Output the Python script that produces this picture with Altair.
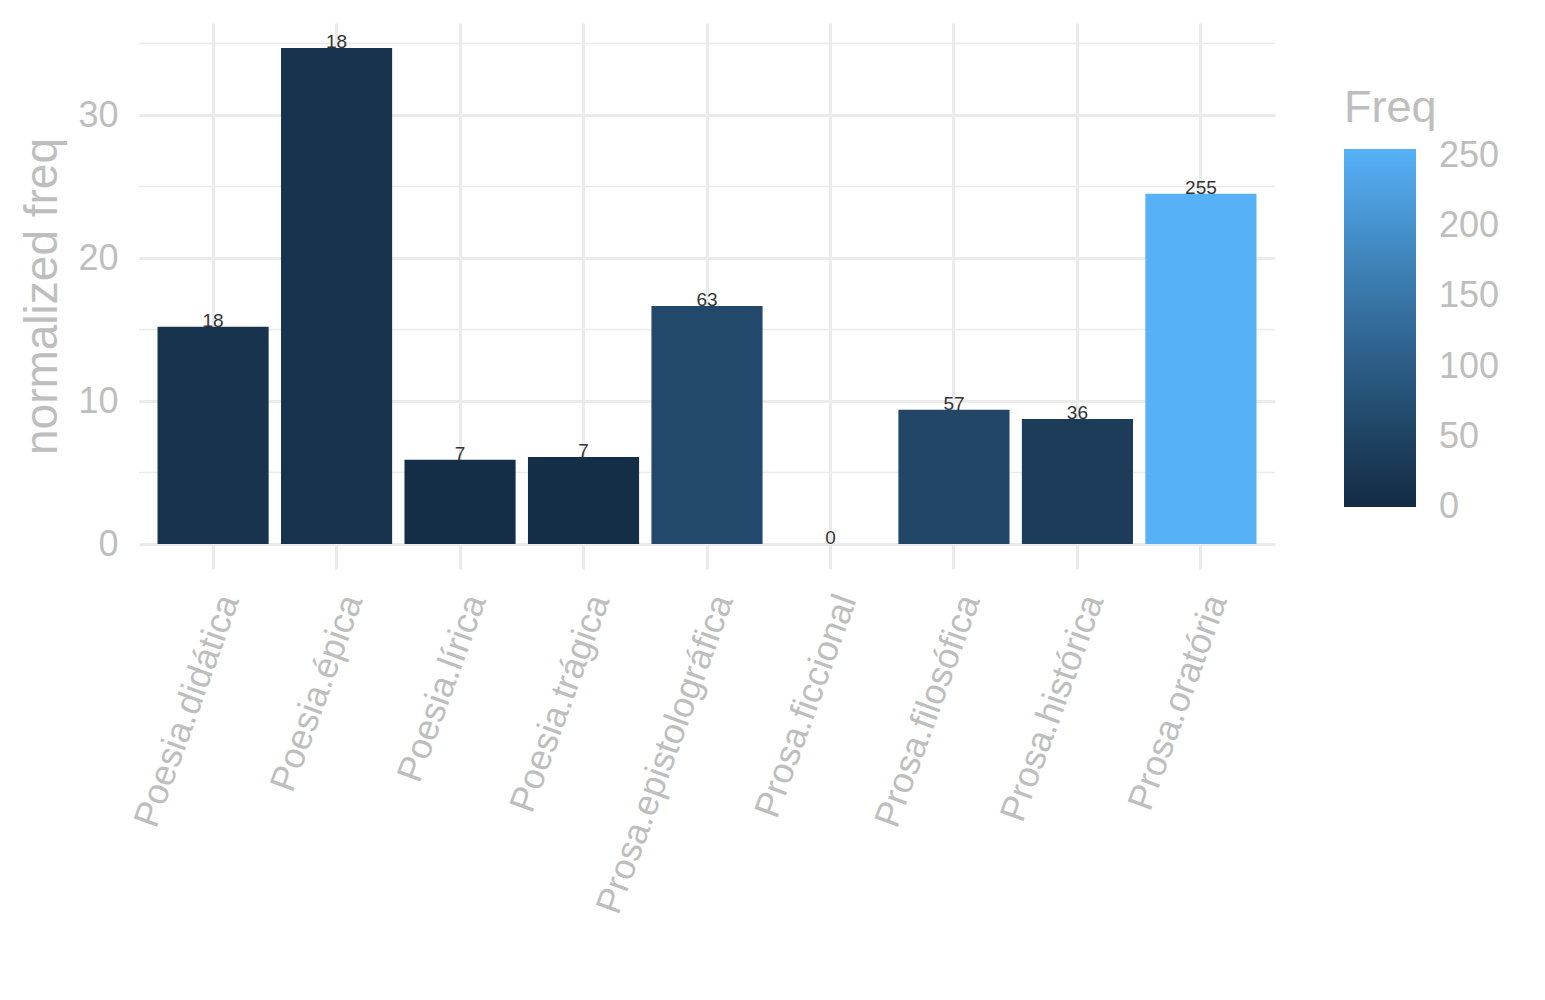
import altair as alt
import pandas as pd

categories = ["Poesia.didática", "Poesia.épica", "Poesia.lírica", "Poesia.trágica",
              "Prosa.epistolográfica", "Prosa.ficcional", "Prosa.filosófica",
              "Prosa.histórica", "Prosa.oratória"]
normalized = [15.2, 34.7, 5.9, 6.1, 16.65, 0.0, 9.4, 8.75, 24.5]
freq = [18, 18, 7, 7, 63, 0, 57, 36, 255]
y_major = [0, 10, 20, 30]
y_minor = [5, 15, 25, 35]
legend_ticks = [0, 50, 100, 150, 200, 250]

df = pd.DataFrame({"cat": categories, "val": normalized, "Freq": freq})
minor_df = pd.DataFrame({"m": y_minor})

FONT = "Liberation Sans"
GREY = "#BEBEBE"
GRID = "#EBEBEB"

ydom = [-1.74, 36.44]

x_enc = alt.X("cat:N", sort=categories, title=None,
              scale=alt.Scale(paddingInner=0.1, paddingOuter=0.15),
              axis=alt.Axis(labelAngle=-70, labelAlign="right", labelBaseline="top",
                            labelFontSize=36, labelColor=GREY, labelFont=FONT,
                            labelPadding=21, labelLimit=1000, ticks=False, domain=False,
                            grid=True, gridColor=GRID, gridWidth=3, bandPosition=0.5,
                            labelOverlap=False))

minor = alt.Chart(minor_df).mark_rule(color=GRID, strokeWidth=1.5).encode(
    y=alt.Y("m:Q", scale=alt.Scale(domain=ydom, nice=False, zero=False))
)

bars = alt.Chart(df).mark_bar().encode(
    x=x_enc,
    y=alt.Y("val:Q", title="normalized freq",
            scale=alt.Scale(domain=ydom, nice=False, zero=False),
            axis=alt.Axis(values=y_major, labelFontSize=36, labelColor=GREY, labelFont=FONT,
                          labelPadding=21, ticks=False, domain=False,
                          grid=True, gridColor=GRID, gridWidth=3,
                          titleFontSize=46, titleColor=GREY, titleFont=FONT,
                          titleFontWeight="normal", titlePadding=11)),
    y2=alt.Y2(datum=0),
    color=alt.Color("Freq:Q",
                    scale=alt.Scale(domain=[-0.01, 255], range=["#132B43", "#56B1F7"],
                                    interpolate="lab"),
                    legend=alt.Legend(orient="none", legendX=1205, legendY=63,
                                      title="Freq", titleFontSize=45, titleColor=GREY,
                                      titleFont=FONT, titleFontWeight="normal",
                                      titlePadding=18,
                                      gradientLength=358, gradientThickness=72,
                                      gradientStrokeWidth=0,
                                      values=legend_ticks, labelFontSize=36,
                                      labelColor=GREY, labelFont=FONT, labelOffset=23,
                                      labelOverlap=False)),
)

text = alt.Chart(df).mark_text(fontSize=19, color="#333333", font=FONT,
                               baseline="alphabetic").encode(
    x=alt.X("cat:N", sort=categories),
    y=alt.Y("val:Q"),
    text=alt.Text("Freq:Q"),
)

chart = alt.layer(minor, bars, text).properties(
    width=1136, height=546,
    padding={"left": 11, "top": 15, "right": 5, "bottom": 5},
).configure(background="white").configure_view(strokeWidth=0)

chart.save("out.html", embed_options={"renderer": "svg", "actions": False})
